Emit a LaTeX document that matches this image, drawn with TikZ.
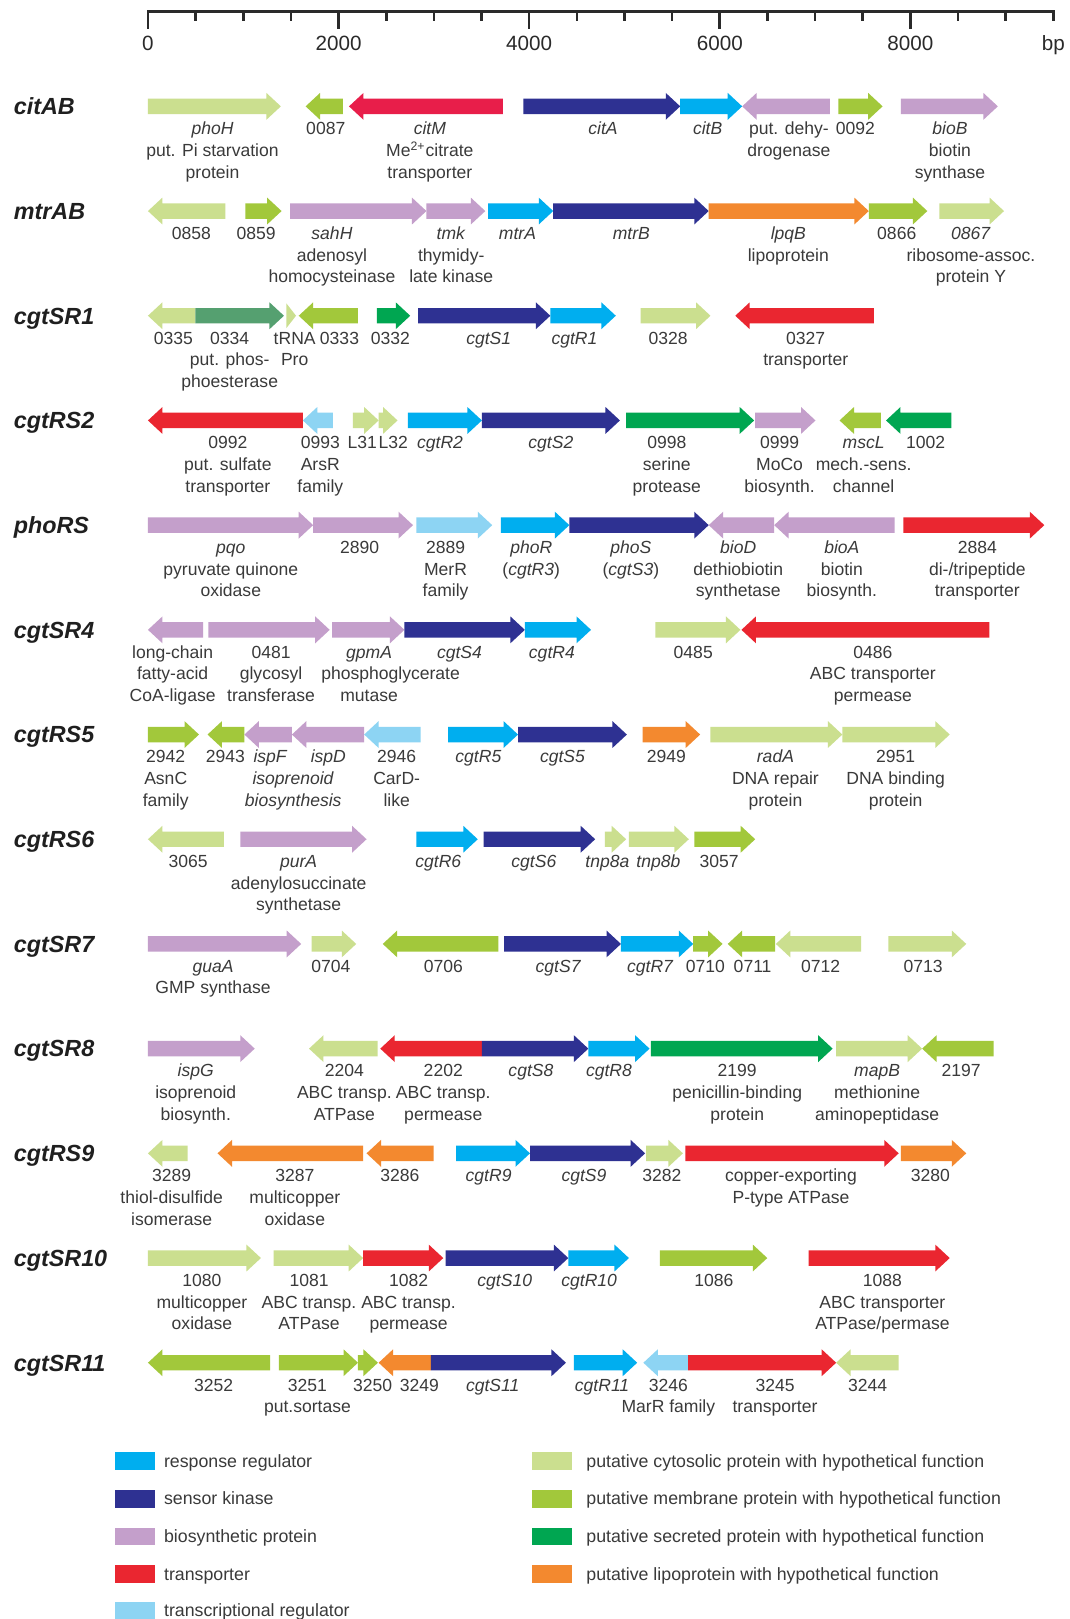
\documentclass[tikz,border=0pt]{standalone}
\usepackage{fontspec}
\setmainfont{Liberation Sans}
\definecolor{cyto}{HTML}{CBDF8F}
\definecolor{memb}{HTML}{A2C83B}
\definecolor{secr}{HTML}{00A651}
\definecolor{lipo}{HTML}{F3892F}
\definecolor{transp}{HTML}{EA2630}
\definecolor{citm}{HTML}{E81E4A}
\definecolor{sens}{HTML}{2E3192}
\definecolor{resp}{HTML}{00AEEF}
\definecolor{bio}{HTML}{C49FCB}
\definecolor{treg}{HTML}{8DD4F3}
\definecolor{pde}{HTML}{55A070}
\definecolor{txt}{HTML}{3A3A3A}
\definecolor{axisc}{HTML}{2A2A2A}
\newcounter{nn}
% gene label: optional line index, x, row y, text
\newcommand{\gl}[4][1]{\stepcounter{nn}\node[glabel] (g\thenn) at (#2,{#3+12.3+21*(#1-1)}) {\strut #4};}
% right-pointing gene arrow: x1, x2 (tip), y, colour
\newcommand{\gR}[4]{\fill[#4] (#1,{#3-7.5}) -- ({#2-14},{#3-7.5}) -- ({#2-14},{#3-13}) -- (#2,#3) -- ({#2-14},{#3+13}) -- ({#2-14},{#3+7.5}) -- (#1,{#3+7.5}) -- cycle;}
% left-pointing gene arrow: x1 (tip), x2, y, colour
\newcommand{\gL}[4]{\fill[#4] (#2,{#3-7.5}) -- ({#1+14},{#3-7.5}) -- ({#1+14},{#3-13}) -- (#1,#3) -- ({#1+14},{#3+13}) -- ({#1+14},{#3+7.5}) -- (#2,{#3+7.5}) -- cycle;}
\newcommand{\rl}[3]{\node[rowlab] (#1) at (13,{#2+8}) {#3};}
% legend entry: box x, y, colour, name, text, text offset
\newcommand{\lgd}[6]{\fill[#3] (#1,{#2-8.5}) rectangle ({#1+38.5},{#2+8.5});
  \node[legtext] (#4) at ({#1+#6},{#2+6}) {#5};}
\begin{document}
\begin{tikzpicture}[x=0.5pt,y=-0.5pt,
  glabel/.style={font=\fontsize{8.5}{10.5}\selectfont, text=txt, inner sep=0pt, anchor=north, align=center},
  rowlab/.style={font=\fontsize{11.3}{13}\selectfont\bfseries\itshape, text=black!88, inner sep=0pt, anchor=base west},
  ticklab/.style={font=\fontsize{10}{12}\selectfont, text=axisc, inner sep=0pt, anchor=base},
  legtext/.style={font=\fontsize{8.6}{10.5}\selectfont, text=txt, inner sep=0pt, anchor=base west},
  axisline/.style={draw=axisc, line width=1.25pt}]
\fill[white] (0,0) rectangle (1036,1568);
\useasboundingbox (0,0) rectangle (1036,1568);

% ---------- scale ----------
\draw[axisline, line cap=rect] (143.3,11) -- (1020.2,11);
\foreach \k in {0,4,8,12,16} \draw[axisline] ({143.3+46.15*\k},11) -- ++(0,17);
\foreach \k in {1,2,3,5,6,7,9,10,11,13,14,15,17,18,19} \draw[axisline] ({143.3+46.15*\k},11) -- ++(0,9);
\node[ticklab] (t0) at (143.3,49) {0};
\node[ticklab] (t1) at ({143.3+46.15*4},49) {2000};
\node[ticklab] (t2) at ({143.3+46.15*8},49) {4000};
\node[ticklab] (t3) at ({143.3+46.15*12},49) {6000};
\node[ticklab] (t4) at ({143.3+46.15*16},49) {8000};
\node[ticklab] (t5) at ({143.3+46.15*19},49) {bp};

% ---------- row labels ----------
\rl{r1}{103}{citAB}
\rl{r2}{204.4}{mtrAB}
\rl{r3}{305.8}{cgtSR1}
\rl{r4}{407.2}{cgtRS2}
\rl{r5}{508.6}{phoRS}
\rl{r6}{610}{cgtSR4}
\rl{r7}{711.4}{cgtRS5}
\rl{r8}{812.8}{cgtRS6}
\rl{r9}{914.2}{cgtSR7}
\rl{r10}{1015.6}{cgtSR8}
\rl{r11}{1117}{cgtRS9}
\rl{r12}{1218.4}{cgtSR10}
\rl{r13}{1319.8}{cgtSR11}

% ---------- row 1: citAB ----------
\gR{143.3}{272}{103}{cyto}
\gL{296}{332}{103}{memb}
\gL{338}{487}{103}{citm}
\gR{507}{658.8}{103}{sens}
\gR{658.8}{718.8}{103}{resp}
\gL{718.8}{803.8}{103}{bio}
\gR{812}{854.8}{103}{memb}
\gR{872.4}{966.4}{103}{bio}
\gl{205.8}{103}{\textit{phoH}\\put. Pi starvation\\protein}
\gl{315.5}{103}{0087}
\gl{416.3}{103}{\textit{citM}\\Me\textsuperscript{2+}citrate\\transporter}
\gl{584}{103}{\textit{citA}}
\gl{685.4}{103}{\textit{citB}}
\gl{764}{103}{put. dehy-\\drogenase}
\gl{828.4}{103}{0092}
\gl{920}{103}{\textit{bioB}\\biotin\\synthase}

% ---------- row 2: mtrAB ----------
\gL{143.3}{218.3}{204.4}{cyto}
\gR{237.7}{272.7}{204.4}{memb}
\gR{281}{413}{204.4}{bio}
\gR{413}{470}{204.4}{bio}
\gR{472.7}{535.8}{204.4}{resp}
\gR{535.8}{686.4}{204.4}{sens}
\gR{686.4}{841.4}{204.4}{lipo}
\gR{841.4}{898.1}{204.4}{memb}
\gR{909.8}{972.4}{204.4}{cyto}
\gl{185.3}{204.4}{0858}
\gl{248}{204.4}{0859}
\gl{321.5}{204.4}{\textit{sahH}\\adenosyl\\homocysteinase}
\gl{437}{204.4}{\textit{tmk}\\thymidy-\\late kinase}
\gl{501.2}{204.4}{\textit{mtrA}}
\gl{611.4}{204.4}{\textit{mtrB}}
\gl{763.5}{204.4}{\textit{lpqB}\\lipoprotein}
\gl{868.5}{204.4}{0866}
\gl{940.3}{204.4}{\textit{0867}\\ribosome-assoc.\\protein Y}

% ---------- row 3: cgtSR1 ----------
\gL{143.3}{189.3}{305.8}{cyto}
\gR{189.3}{275}{305.8}{pde}
\fill[cyto] (277.3,{305.8-12}) -- (286.7,305.8) -- (277.3,{305.8+12}) -- cycle;
\gL{289.3}{346.7}{305.8}{memb}
\gR{365}{397.3}{305.8}{secr}
\gR{405}{533}{305.8}{sens}
\gR{533}{596.4}{305.8}{resp}
\gR{620.4}{688.1}{305.8}{cyto}
\gL{712.1}{846.4}{305.8}{transp}
\gl{168}{305.8}{0335}
\gl{222.5}{305.8}{0334\\put. phos-\\phoesterase}
\gl{285.4}{305.8}{tRNA\\Pro}
\gl{328.8}{305.8}{0333}
\gl{378}{305.8}{0332}
\gl{473.3}{305.8}{\textit{cgtS1}}
\gl{556.4}{305.8}{\textit{cgtR1}}
\gl{647}{305.8}{0328}
\gl{780.3}{305.8}{0327\\transporter}

% ---------- row 4: cgtRS2 ----------
\gL{143.3}{293.3}{407.2}{transp}
\gL{293.3}{322.3}{407.2}{treg}
\gR{341.7}{366.7}{407.2}{cyto}
\gR{366.7}{385}{407.2}{cyto}
\gR{395}{466.7}{407.2}{resp}
\gR{466.7}{600.4}{407.2}{sens}
\gR{606.4}{730.4}{407.2}{secr}
\gR{731.4}{789.8}{407.2}{bio}
\gL{813.1}{853.1}{407.2}{memb}
\gL{858.1}{921.4}{407.2}{secr}
\gl{220.7}{407.2}{0992\\put. sulfate\\transporter}
\gl{310.2}{407.2}{0993\\ArsR\\family}
\gl{350.8}{407.2}{L31}
\gl{380.8}{407.2}{L32}
\gl{426.2}{407.2}{\textit{cgtR2}}
\gl{533.5}{407.2}{\textit{cgtS2}}
\gl{645.8}{407.2}{0998\\serine\\protease}
\gl{755}{407.2}{0999\\MoCo\\biosynth.}
\gl{836.4}{407.2}{\textit{mscL}\\mech.-sens.\\channel}
\gl{896.4}{407.2}{1002}

% ---------- row 5: phoRS ----------
\gR{143.3}{303.3}{508.6}{bio}
\gR{303.3}{400}{508.6}{bio}
\gR{403.3}{476.7}{508.6}{treg}
\gR{485}{551.4}{508.6}{resp}
\gR{551.4}{686.4}{508.6}{sens}
\gL{686.4}{749.8}{508.6}{bio}
\gL{749.8}{866.4}{508.6}{bio}
\gR{874.8}{1011.4}{508.6}{transp}
\gl{223.5}{508.6}{\textit{pqo}\\pyruvate quinone\\oxidase}
\gl{348.3}{508.6}{2890}
\gl{431.5}{508.6}{2889\\MerR\\family}
\gl{514.5}{508.6}{\textit{phoR}\\(\textit{cgtR3})}
\gl{611}{508.6}{\textit{phoS}\\(\textit{cgtS3})}
\gl{715}{508.6}{\textit{bioD}\\dethiobiotin\\synthetase}
\gl{815.3}{508.6}{\textit{bioA}\\biotin\\biosynth.}
\gl{946.5}{508.6}{2884\\di-/tripeptide\\transporter}

% ---------- row 6: cgtSR4 ----------
\gL{143.3}{196.7}{610}{bio}
\gR{201.7}{319.3}{610}{bio}
\gR{321.7}{391.7}{610}{bio}
\gR{391.7}{508.3}{610}{sens}
\gR{508.3}{572.4}{610}{resp}
\gR{634.8}{717.1}{610}{cyto}
\gL{718.1}{958.1}{610}{transp}
\gl{167.2}{610}{long-chain\\fatty-acid\\CoA-ligase}
\gl{262.5}{610}{0481\\glycosyl\\transferase}
\gl{357.5}{610}{\textit{gpmA}}
\gl[2]{378.3}{610}{phosphoglycerate}
\gl[3]{357.5}{610}{mutase}
\gl{445}{610}{\textit{cgtS4}}
\gl{534.5}{610}{\textit{cgtR4}}
\gl{671.4}{610}{0485}
\gl{845.4}{610}{0486\\ABC transporter\\permease}

% ---------- row 7: cgtRS5 ----------
\gR{143.3}{192.7}{711.4}{memb}
\gL{201}{236.7}{711.4}{memb}
\gL{236.7}{282.7}{711.4}{bio}
\gL{282.7}{352.7}{711.4}{bio}
\gL{352.7}{407.3}{711.4}{treg}
\gR{434}{501.7}{711.4}{resp}
\gR{501.7}{607.1}{711.4}{sens}
\gR{622.4}{678.1}{711.4}{lipo}
\gR{688.1}{815.8}{711.4}{cyto}
\gR{815.8}{919.8}{711.4}{cyto}
\gl{160.5}{711.4}{2942\\AsnC\\family}
\gl{218.3}{711.4}{2943}
\gl{262}{711.4}{\textit{ispF}}
\gl{318}{711.4}{\textit{ispD}}
\gl[2]{284}{711.4}{\textit{isoprenoid}\\\textit{biosynthesis}}
\gl{384.2}{711.4}{2946\\CarD-\\like}
\gl{463.3}{711.4}{\textit{cgtR5}}
\gl{544.8}{711.4}{\textit{cgtS5}}
\gl{645.3}{711.4}{2949}
\gl{751}{711.4}{\textit{radA}\\DNA repair\\protein}
\gl{867.4}{711.4}{2951\\DNA binding\\protein}

% ---------- row 8: cgtRS6 ----------
\gL{143.3}{216.7}{812.8}{cyto}
\gR{232.7}{355}{812.8}{bio}
\gR{403.3}{462.7}{812.8}{resp}
\gR{468.3}{576.4}{812.8}{sens}
\gR{585.8}{606.4}{812.8}{cyto}
\gR{609.1}{667.1}{812.8}{cyto}
\gR{672.4}{731.4}{812.8}{memb}
\gl{182.2}{812.8}{3065}
\gl{289.2}{812.8}{\textit{purA}\\adenylosuccinate\\synthetase}
\gl{424.5}{812.8}{\textit{cgtR6}}
\gl{517}{812.8}{\textit{cgtS6}}
\gl{588.3}{812.8}{\textit{tnp8a}}
\gl{637.6}{812.8}{\textit{tnp8b}}
\gl{696.4}{812.8}{3057}

% ---------- row 9: cgtSR7 ----------
\gR{143.3}{291.7}{914.2}{bio}
\gR{301.7}{345}{914.2}{cyto}
\gL{370.7}{482.7}{914.2}{memb}
\gR{488.3}{601.4}{914.2}{sens}
\gR{601.4}{671.4}{914.2}{resp}
\gR{671.4}{699.8}{914.2}{memb}
\gL{704.8}{750.8}{914.2}{memb}
\gL{751.4}{834.1}{914.2}{cyto}
\gR{860.4}{935.8}{914.2}{cyto}
\gl{206.3}{914.2}{\textit{guaA}\\GMP synthase}
\gl{320.5}{914.2}{0704}
\gl{429.5}{914.2}{0706}
\gl{540.8}{914.2}{\textit{cgtS7}}
\gl{629.8}{914.2}{\textit{cgtR7}}
\gl{683.1}{914.2}{0710}
\gl{728.9}{914.2}{0711}
\gl{794.8}{914.2}{0712}
\gl{894.1}{914.2}{0713}

% ---------- row 10: cgtSR8 ----------
\gR{143.3}{246.7}{1015.6}{bio}
\gL{299.3}{365.7}{1015.6}{cyto}
\gL{368.3}{466.7}{1015.6}{transp}
\gR{466.7}{569.8}{1015.6}{sens}
\gR{569.8}{629.1}{1015.6}{resp}
\gR{630.4}{806.4}{1015.6}{secr}
\gR{809.8}{893.1}{1015.6}{cyto}
\gL{893.1}{962.4}{1015.6}{memb}
\gl{189.6}{1015.6}{\textit{ispG}\\isoprenoid\\biosynth.}
\gl{333.5}{1015.6}{2204\\ABC transp.\\ATPase}
\gl{429.3}{1015.6}{2202\\ABC transp.\\permease}
\gl{514.2}{1015.6}{\textit{cgtS8}}
\gl{589.8}{1015.6}{\textit{cgtR8}}
\gl{714}{1015.6}{2199\\penicillin-binding\\protein}
\gl{849.5}{1015.6}{\textit{mapB}\\methionine\\aminopeptidase}
\gl{930.8}{1015.6}{2197}

% ---------- row 11: cgtRS9 ----------
\gL{143.3}{181.7}{1117}{cyto}
\gL{210.7}{351.7}{1117}{lipo}
\gL{355}{420}{1117}{lipo}
\gR{441.7}{513.3}{1117}{resp}
\gR{513.3}{624.8}{1117}{sens}
\gR{625.8}{661.4}{1117}{cyto}
\gR{663.8}{870.4}{1117}{transp}
\gR{872.4}{935.8}{1117}{lipo}
\gl{166.3}{1117}{3289\\thiol-disulfide\\isomerase}
\gl{285.5}{1117}{3287\\multicopper\\oxidase}
\gl{387.2}{1117}{3286}
\gl{473.2}{1117}{\textit{cgtR9}}
\gl{565.6}{1117}{\textit{cgtS9}}
\gl{641.1}{1117}{3282}
\gl{766}{1117}{copper-exporting\\P-type ATPase}
\gl{901.1}{1117}{3280}

% ---------- row 12: cgtSR10 ----------
\gR{143.3}{252.7}{1218.4}{cyto}
\gR{265}{351.7}{1218.4}{cyto}
\gR{351.7}{429.3}{1218.4}{transp}
\gR{431.7}{550.4}{1218.4}{sens}
\gR{550.4}{609.1}{1218.4}{resp}
\gR{639.1}{743.1}{1218.4}{memb}
\gR{783.1}{919.8}{1218.4}{transp}
\gl{195.6}{1218.4}{1080\\multicopper\\oxidase}
\gl{299.3}{1218.4}{1081\\ABC transp.\\ATPase}
\gl{395.7}{1218.4}{1082\\ABC transp.\\permease}
\gl{488.8}{1218.4}{\textit{cgtS10}}
\gl{570.6}{1218.4}{\textit{cgtR10}}
\gl{691.4}{1218.4}{1086}
\gl{854.6}{1218.4}{1088\\ABC transporter\\ATPase/permase}

% ---------- row 13: cgtSR11 ----------
\gL{143.3}{261.7}{1319.8}{memb}
\gR{270}{346.7}{1319.8}{memb}
\gR{346.7}{366}{1319.8}{memb}
\gL{366.7}{417.3}{1319.8}{lipo}
\gR{417.3}{548.1}{1319.8}{sens}
\gR{555.8}{617.1}{1319.8}{resp}
\gL{623.1}{666.4}{1319.8}{treg}
\gR{666.4}{809.8}{1319.8}{transp}
\gL{809.8}{870.4}{1319.8}{cyto}
\gl{207}{1319.8}{3252}
\gl{297.8}{1319.8}{3251\\put.sortase}
\gl{360.8}{1319.8}{3250}
\gl{406.2}{1319.8}{3249}
\gl{477.2}{1319.8}{\textit{cgtS11}}
\gl{583.1}{1319.8}{\textit{cgtR11}}
\gl{647.3}{1319.8}{3246\\MarR family}
\gl{750.6}{1319.8}{3245\\transporter}
\gl{840.3}{1319.8}{3244}

% ---------- legend ----------
\lgd{111.5}{1415}{resp}{lg1}{response regulator}{47}
\lgd{111.5}{1451.5}{sens}{lg2}{sensor kinase}{47}
\lgd{111.5}{1488}{bio}{lg3}{biosynthetic protein}{47}
\lgd{111.5}{1524.5}{transp}{lg4}{transporter}{47}
\lgd{111.5}{1560}{treg}{lg5}{transcriptional regulator}{47}
\lgd{515.5}{1415}{cyto}{lg6}{putative cytosolic protein with hypothetical function}{52}
\lgd{515.5}{1451.5}{memb}{lg7}{putative membrane protein with hypothetical function}{52}
\lgd{515.5}{1488}{secr}{lg8}{putative secreted protein with hypothetical function}{52}
\lgd{515.5}{1524.5}{lipo}{lg9}{putative lipoprotein with hypothetical function}{52}
\end{tikzpicture}
\end{document}
